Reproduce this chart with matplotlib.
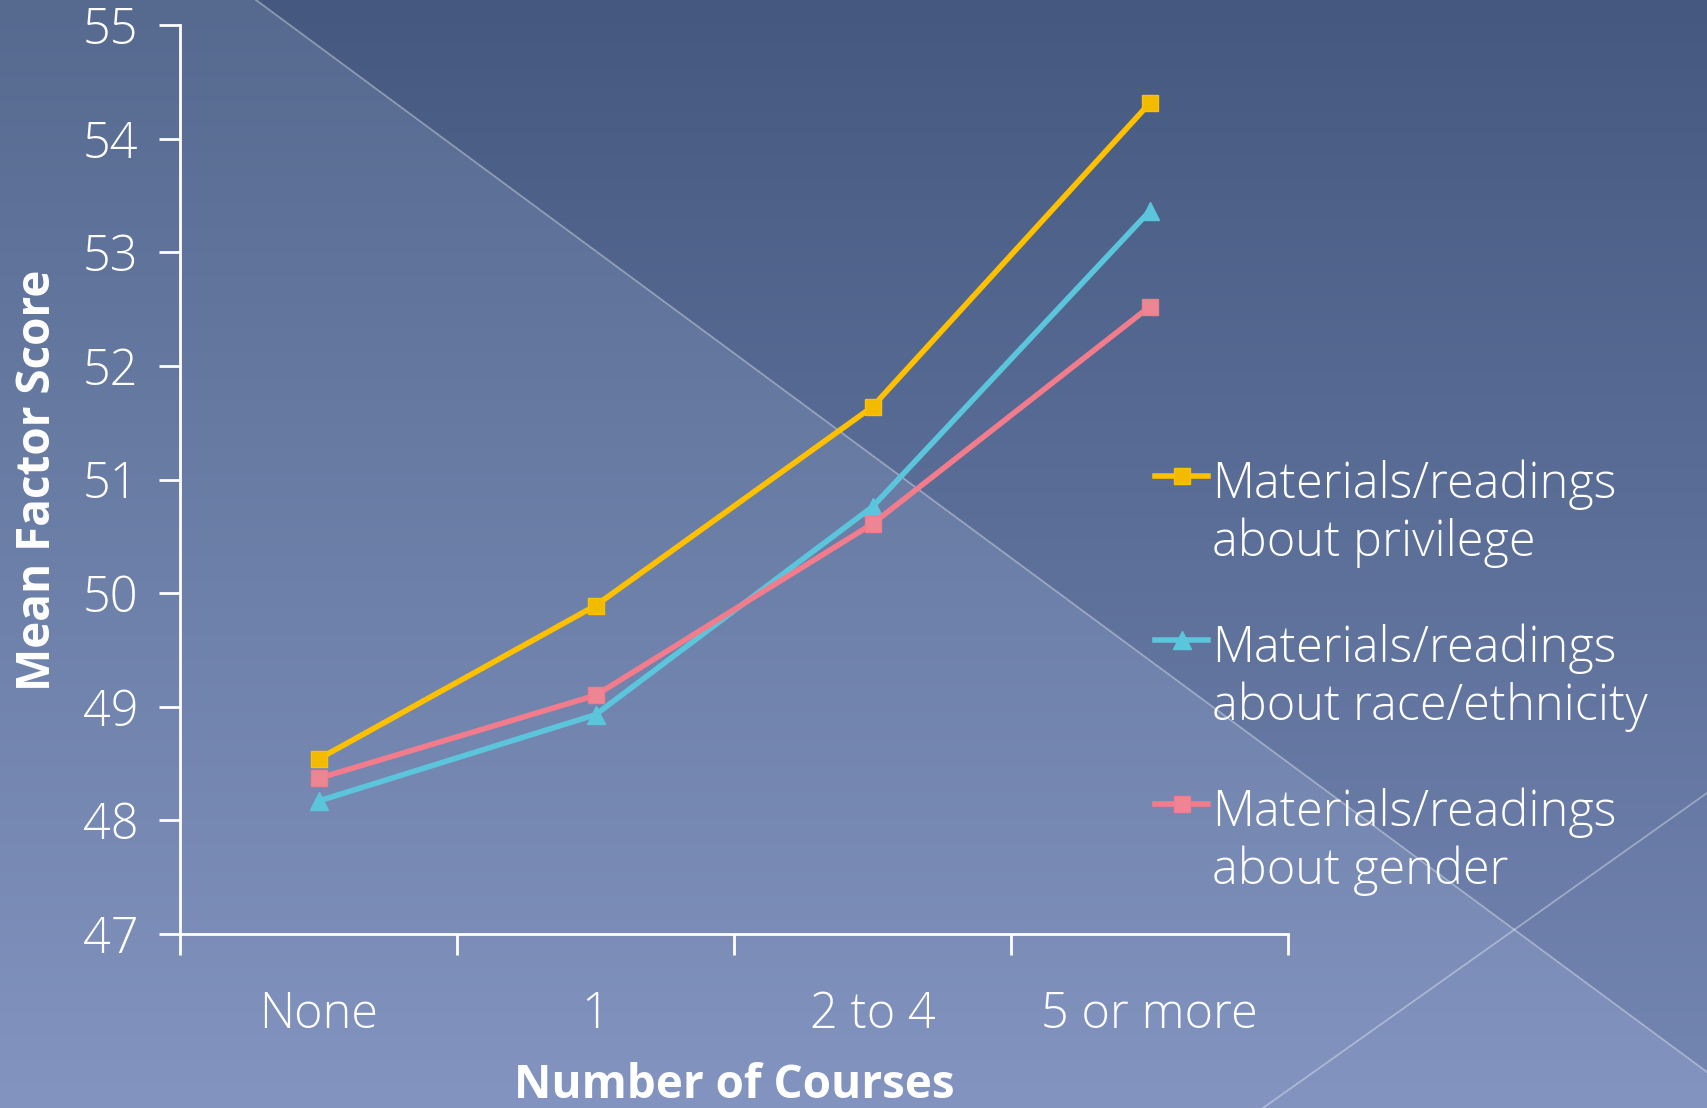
import numpy as np
import matplotlib
matplotlib.use("Agg")
import matplotlib.pyplot as plt
from matplotlib.colors import to_rgb

plt.rcParams['font.family'] = ['Open Sans', 'DejaVu Sans']

categories = ['None', '1', '2 to 4', '5 or more']
privilege = [48.54, 49.89, 51.64, 54.31]
race = [48.17, 48.93, 50.76, 53.36]
gender = [48.37, 49.10, 50.61, 52.52]
labels = ['Materials/readings\nabout privilege',
          'Materials/readings\nabout race/ethnicity',
          'Materials/readings\nabout gender']

W, H = 1707, 1108
fig = plt.figure(figsize=(W / 100, H / 100), dpi=100)

# slide background: vertical gradient, darker wedge above the diagonal
bg = fig.add_axes([0, 0, 1, 1])
yy, xx = np.mgrid[0:H, 0:W]
t = (yy / H)[..., None]
light = np.array(to_rgb('#566a90')) * (1 - t) + np.array(to_rgb('#8294bf')) * t
dark = np.array(to_rgb('#455980')) * (1 - t) + np.array(to_rgb('#7486b2')) * t
above = (yy * (1707 - 256) - xx * 1072 + 256 * 1072) < 0
img = np.where(above[..., None], dark, light)
bg.imshow(img, extent=[0, W, H, 0], aspect='auto')
bg.plot([256, 1707], [0, 1072], color='white', alpha=0.35, lw=1.3)
bg.plot([1263, 1707], [1108, 793], color='white', alpha=0.35, lw=1.3)
bg.set_xlim(0, W)
bg.set_ylim(H, 0)
bg.axis('off')

ax = fig.add_axes([180 / W, 1 - 934 / H, (1288 - 180) / W, (934 - 25) / H])
ax.patch.set_alpha(0)
x = np.arange(len(categories))
ax.plot(x, privilege, color='#FFC000', lw=4, marker='s', ms=12,
        mfc='#F2BB00', mec='#FFC000', label=labels[0])
ax.plot(x, race, color='#5BC5DB', lw=4, marker='^', ms=13,
        mfc='#5BC5DB', mec='#5BC5DB', label=labels[1])
ax.plot(x, gender, color='#F27C8C', lw=4, marker='s', ms=12,
        mfc='#EE8593', mec='#F27C8C', label=labels[2])

ax.set_xlim(-0.5, 3.5)
ax.set_ylim(47, 55)
ax.set_yticks(range(47, 56))
ax.set_xticks(x)
ax.set_xticklabels(categories)
ax.set_xticks(np.arange(-0.5, 4, 1), minor=True)
ax.tick_params(axis='x', which='major', length=0, pad=40, labelsize=35, labelcolor='white')
ax.tick_params(axis='x', which='minor', length=15, width=2, color='white')
ax.tick_params(axis='y', length=15, width=2, color='white', pad=15,
               labelsize=35, labelcolor='white')
for lab in ax.get_xticklabels() + ax.get_yticklabels():
    lab.set_fontweight('light')
for s in ['top', 'right']:
    ax.spines[s].set_visible(False)
for s in ['left', 'bottom']:
    ax.spines[s].set_color('white')
    ax.spines[s].set_linewidth(2)

fig.text(38 / W, 1 - 480 / H, 'Mean Factor Score', rotation=90, ha='center', va='center',
         color='white', fontsize=33, fontweight='bold')
fig.text(734 / W, 1 - 1085 / H, 'Number of Courses', ha='center', va='center',
         color='white', fontsize=33, fontweight='bold')

leg = ax.legend(loc='upper left', bbox_to_anchor=(1155 / W, 1 - 459 / H),
                bbox_transform=fig.transFigure, frameon=False, fontsize=35,
                handlelength=1.1, handletextpad=0.08, labelspacing=1.13,
                borderpad=0, borderaxespad=0)
for txt in leg.get_texts():
    txt.set_color('white')
    txt.set_fontweight('light')
    txt.set_linespacing(1.21)
# put each legend line marker level with the first text line
for col in leg._legend_handle_box.get_children():
    for row in col.get_children():
        row.align = 'top'

fig.savefig('out.png', dpi=100)
